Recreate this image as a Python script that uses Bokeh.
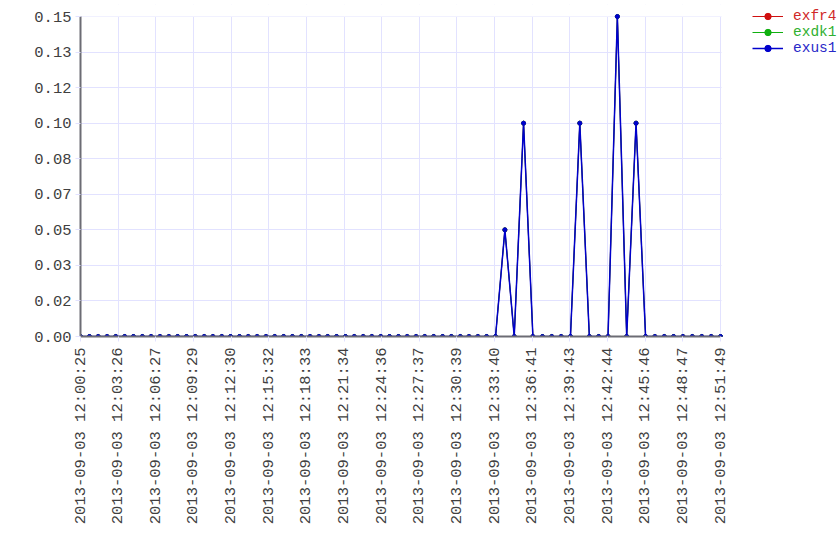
import math
from bokeh.plotting import figure
from bokeh.models import (FixedTicker, CustomJSTickFormatter, Range1d, Legend,
                          LegendItem, ColumnDataSource, BoxAnnotation)
from bokeh.embed import file_html
from bokeh.resources import INLINE

# ---------------- data ----------------
times = [
    "12:00:25", "12:01:08", "12:01:50", "12:02:33", "12:03:15", "12:03:58",
    "12:04:40", "12:05:23", "12:06:05", "12:06:48", "12:07:31", "12:08:13",
    "12:08:56", "12:09:38", "12:10:21", "12:11:03", "12:11:46", "12:12:28",
    "12:13:11", "12:13:53", "12:14:36", "12:15:19", "12:16:01", "12:16:44",
    "12:17:26", "12:18:09", "12:18:51", "12:19:34", "12:20:16", "12:20:59",
    "12:21:42", "12:22:24", "12:23:07", "12:23:49", "12:24:32", "12:25:14",
    "12:25:57", "12:26:39", "12:27:22", "12:28:04", "12:28:47", "12:29:30",
    "12:30:12", "12:30:55", "12:31:37", "12:32:20", "12:33:02", "12:33:45",
    "12:34:30", "12:35:15", "12:36:00", "12:36:45", "12:37:31", "12:38:16",
    "12:39:01", "12:39:46", "12:40:31", "12:41:17", "12:42:02", "12:42:47",
    "12:43:32", "12:44:17", "12:45:02", "12:45:48", "12:46:33", "12:47:18",
    "12:48:03", "12:48:48", "12:49:33", "12:50:19", "12:51:04", "12:51:49",
]

exus1 = [0.0] * 48 + [0.05, 0.0, 0.10, 0.0, 0.0, 0.0, 0.0, 0.0, 0.10, 0.0,
                      0.0, 0.0, 0.15, 0.0, 0.10, 0.0, 0.0, 0.0, 0.0, 0.0,
                      0.0, 0.0, 0.0, 0.0]
exfr4 = list(exus1)
exdk1 = list(exus1)

series_names = ["exfr4", "exdk1", "exus1"]
series_colors = ["#d01010", "#10b010", "#0000cc"]
label_colors = ["#d02828", "#30b030", "#2828c8"]
line_widths = [1.0, 1.0, 1.5]

x_tick_labels = [
    "2013-09-03 12:00:25", "2013-09-03 12:03:26", "2013-09-03 12:06:27",
    "2013-09-03 12:09:29", "2013-09-03 12:12:30", "2013-09-03 12:15:32",
    "2013-09-03 12:18:33", "2013-09-03 12:21:34", "2013-09-03 12:24:36",
    "2013-09-03 12:27:37", "2013-09-03 12:30:39", "2013-09-03 12:33:40",
    "2013-09-03 12:36:41", "2013-09-03 12:39:43", "2013-09-03 12:42:44",
    "2013-09-03 12:45:46", "2013-09-03 12:48:47", "2013-09-03 12:51:49",
]
y_tick_labels = ["0.00", "0.02", "0.03", "0.05", "0.07", "0.08", "0.10",
                 "0.12", "0.13", "0.15"]
y_max = 0.15

# ---------------- helpers ----------------
def to_sec(t):
    h, m, s = (int(v) for v in t.split(":"))
    return h * 3600 + m * 60 + s

t0 = to_sec(times[0])
xs = [to_sec(t) - t0 for t in times]
span = xs[-1]

FONT = "Liberation Mono"
FSIZE = "15.5px"
LEG_FSIZE = "14.5px"
GRID = "#e2e2ff"

# layout in pixels
PLOT_W, PLOT_H = 640, 320       # visible plotting area
EXTRA_R, EXTRA_T = 120, 12      # frame extension that hosts the legend
LEFT, TOP, BOTTOM = 80, 4, 216

x_end = span * (PLOT_W + EXTRA_R) / PLOT_W
y_end = y_max * (PLOT_H + EXTRA_T) / PLOT_H

p = figure(width=LEFT + PLOT_W + EXTRA_R,
           height=TOP + EXTRA_T + PLOT_H + BOTTOM,
           output_backend="svg", toolbar_location=None,
           x_range=Range1d(0, x_end), y_range=Range1d(0, y_end),
           min_border_left=LEFT, min_border_right=0, min_border_top=TOP,
           min_border_bottom=BOTTOM)
p.outline_line_color = None
p.background_fill_color = "white"
p.border_fill_color = "white"

nx = len(x_tick_labels) - 1
xstep = span / nx
x_ticks = [k * xstep for k in range(nx + 1)]
ny = len(y_tick_labels) - 1
ystep = y_max / ny
y_ticks = [k * ystep for k in range(ny + 1)]

p.xaxis.ticker = FixedTicker(ticks=x_ticks, minor_ticks=[])
p.yaxis.ticker = FixedTicker(ticks=y_ticks, minor_ticks=[])
p.xaxis.formatter = CustomJSTickFormatter(
    args=dict(labels=x_tick_labels, step=xstep),
    code="return labels[Math.round(tick / step)];")
p.yaxis.formatter = CustomJSTickFormatter(
    args=dict(labels=y_tick_labels, step=ystep),
    code="return labels[Math.round(tick / step)];")
p.xaxis.bounds = (0, span)
p.yaxis.bounds = (0, y_max)

p.xgrid.grid_line_color = GRID
p.ygrid.grid_line_color = GRID

for ax in (p.xaxis, p.yaxis):
    ax.axis_line_color = "#6c6c74"
    ax.axis_line_width = 2
    ax.major_tick_line_color = GRID
    ax.major_tick_out = 5
    ax.major_tick_in = 0
    ax.minor_tick_line_color = None
    ax.major_label_text_font = FONT
    ax.major_label_text_font_size = FSIZE
    ax.major_label_text_color = "#404040"
p.yaxis.major_label_standoff = 4
p.xaxis.major_label_standoff = 6
p.xaxis.major_label_orientation = math.pi / 2

# white masks hide the grid in the frame extension (legend area)
p.add_layout(BoxAnnotation(left=span * (1 + 1.0 / PLOT_W), fill_color="white",
                           fill_alpha=1, line_alpha=0, level="underlay"))
p.add_layout(BoxAnnotation(bottom=y_max, fill_color="white",
                           fill_alpha=1, line_alpha=0, level="underlay"))

frame_bottom = TOP + EXTRA_T + PLOT_H
all_series = [exfr4, exdk1, exus1]
for i, vals in enumerate(all_series):
    src = ColumnDataSource(dict(x=xs, y=vals))
    lr = p.line("x", "y", source=src, line_color=series_colors[i],
                line_width=line_widths[i])
    cr = p.scatter("x", "y", source=src, size=4, marker="circle",
                   fill_color=series_colors[i], line_color=series_colors[i])
    leg = Legend(items=[LegendItem(label=series_names[i], renderers=[lr, cr])],
                 location=(PLOT_W + 32, frame_bottom - 24 - 16 * i),
                 padding=0, margin=0, spacing=0,
                 glyph_width=31, glyph_height=16, label_height=16,
                 label_standoff=10, border_line_alpha=0,
                 background_fill_alpha=0,
                 label_text_font=FONT, label_text_font_size=LEG_FSIZE,
                 label_text_color=label_colors[i])
    p.add_layout(leg)

open("out.html", "w").write(file_html(p, INLINE))
